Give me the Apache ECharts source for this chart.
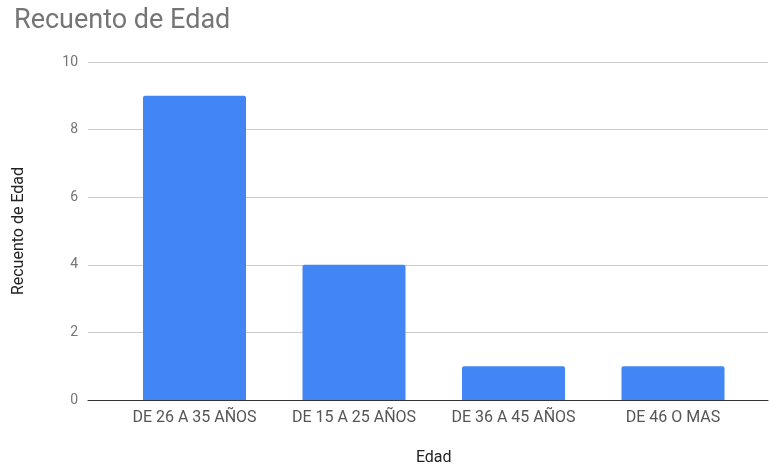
<!DOCTYPE html>
<html>
<head>
<meta charset="utf-8">
<script src="https://cdn.jsdelivr.net/npm/echarts@6/dist/echarts.min.js"></script>
<style>html,body{margin:0;padding:0;background:#fff}#c{width:770px;height:468px}</style>
</head>
<body>
<div id="c"></div>
<script>
const categories = ['DE 26 A 35 AÑOS', 'DE 15 A 25 AÑOS', 'DE 36 A 45 AÑOS', 'DE 46 O MAS'];
const values = [9, 4, 1, 1];
const yTicks = { min: 0, max: 10, interval: 2 };

const chart = echarts.init(document.getElementById('c'));
const font = 'Roboto';
chart.setOption({
  animation: false,
  textStyle: { fontFamily: font },
  title: {
    text: 'Recuento de Edad', left: 9, top: 3,
    textStyle: { fontFamily: font, fontSize: 27, fontWeight: 'normal', color: '#757575' }
  },
  grid: [
    { left: 88, right: 2, top: 62, bottom: 68, containLabel: false, outerBoundsMode: 'none' },
    { left: 114.75, right: 17.25, top: 62, bottom: 68, containLabel: false, outerBoundsMode: 'none' }
  ],
  xAxis: [
    { gridIndex: 0, type: 'value', min: 0, max: 1, axisLine: { show: true, lineStyle: { color: '#333', width: 1 } },
      axisTick: { show: false }, axisLabel: { show: false }, splitLine: { show: false } },
    { gridIndex: 1, type: 'category', data: categories, axisLine: { show: false }, axisTick: { show: false },
      axisLabel: { color: '#555', fontSize: 16, margin: 10, fontFamily: font, interval: 0 },
      name: 'Edad', nameLocation: 'middle', nameGap: 50,
      nameTextStyle: { color: '#222', fontSize: 16, fontFamily: font } }
  ],
  yAxis: [
    { gridIndex: 0, type: 'value', min: yTicks.min, max: yTicks.max, interval: yTicks.interval,
      axisLine: { show: false }, axisTick: { show: false },
      axisLabel: { color: '#757575', fontSize: 14, margin: 10, fontFamily: font },
      splitLine: { lineStyle: { color: '#cccccc', width: 1 } },
      name: 'Recuento de Edad', nameLocation: 'middle', nameGap: 61, nameRotate: 90,
      nameTextStyle: { color: '#222', fontSize: 16, fontFamily: font } },
    { gridIndex: 1, type: 'value', min: yTicks.min, max: yTicks.max, interval: yTicks.interval, show: false,
      splitLine: { show: false } }
  ],
  series: [{
    type: 'bar', xAxisIndex: 1, yAxisIndex: 1, data: values, barWidth: 103,
    itemStyle: { color: '#4285f4', borderRadius: [2, 2, 0, 0] }
  }]
});
</script>
</body>
</html>
